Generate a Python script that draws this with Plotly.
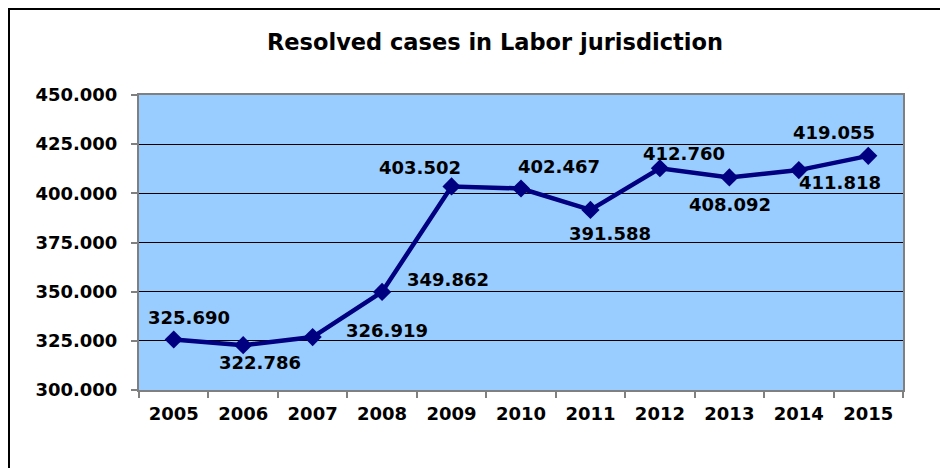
import plotly.graph_objects as go

years = ["2005", "2006", "2007", "2008", "2009", "2010", "2011", "2012", "2013", "2014", "2015"]
resolved = [325690, 322786, 326919, 349862, 403502, 402467, 391588, 412760, 408092, 411818, 419055]
y_ticks = [300000, 325000, 350000, 375000, 400000, 425000, 450000]
title_text = "Resolved cases in Labor jurisdiction"

# label placement offsets in pixels (dx right, dy down)
label_offsets = [(15, -22), (17, 17), (74, -7), (66, -12), (-32, -19), (38, -22),
                 (20, 24), (24, -15), (1, 27), (41, 12), (-34, -23)]

# page has an 8px body margin, so figure pixel = page pixel - 8
W, H = 940, 460
ML, MT = 131, 87
PW, PH = 764, 295
MR = W - ML - PW
MB = H - MT - PH
FONT = "DejaVu Sans"
GRAY = "#808080"
NAVY = "#000080"


def fmt(v):
    return f"{v:,}".replace(",", ".")


fig = go.Figure()
fig.add_trace(go.Scatter(
    x=years, y=resolved, mode="lines+markers",
    line=dict(color=NAVY, width=4.5),
    marker=dict(symbol="diamond", size=14, color=NAVY),
    hoverinfo="skip", showlegend=False,
))

annotations = []
for i, (v, (dx, dy)) in enumerate(zip(resolved, label_offsets)):
    annotations.append(dict(
        x=i, y=v, xref="x", yref="y", text=fmt(v), showarrow=False,
        xshift=dx, yshift=-dy,
        font=dict(family=FONT, size=18, color="black", weight="bold"),
    ))

# outer chart border (only top and left visible in reference)
shapes = [dict(
    type="rect", xref="paper", yref="paper",
    x0=(1 - ML) / PW, x1=(W + 20 - ML) / PW,
    y0=(H - MB - (H + 20)) / PH, y1=(H - MB - 1) / PH,
    line=dict(color="black", width=2), fillcolor="rgba(0,0,0,0)", layer="below",
)]

fig.update_layout(
    width=W, height=H,
    margin=dict(l=ML, r=MR, t=MT, b=MB),
    paper_bgcolor="white", plot_bgcolor="#99CCFF",
    title=dict(text=title_text, x=(495 - 8) / W, xanchor="center",
               y=1 - (42 - 8) / H, yanchor="middle",
               font=dict(family=FONT, size=22.5, color="black", weight="bold")),
    annotations=annotations,
    shapes=shapes,
    xaxis=dict(
        type="category", range=[-0.5, len(years) - 0.5],
        tickson="boundaries", ticks="outside", ticklen=6,
        tickcolor=GRAY, tickwidth=2,
        showline=True, linecolor=GRAY, linewidth=2, mirror=True,
        showgrid=False, fixedrange=True, tickangle=0, ticklabelstandoff=6,
        tickfont=dict(family=FONT, size=18, color="black", weight="bold"),
    ),
    yaxis=dict(
        range=[300000, 450000], tickvals=y_ticks, ticktext=[fmt(t) for t in y_ticks],
        ticks="outside", ticklen=6, tickcolor=GRAY, tickwidth=2,
        showline=True, linecolor=GRAY, linewidth=2, mirror=True,
        showgrid=True, gridcolor="black", gridwidth=1,
        zeroline=False, fixedrange=True, ticklabelstandoff=10,
        tickfont=dict(family=FONT, size=18, color="black", weight="bold"),
    ),
)

fig.write_html("out.html")
